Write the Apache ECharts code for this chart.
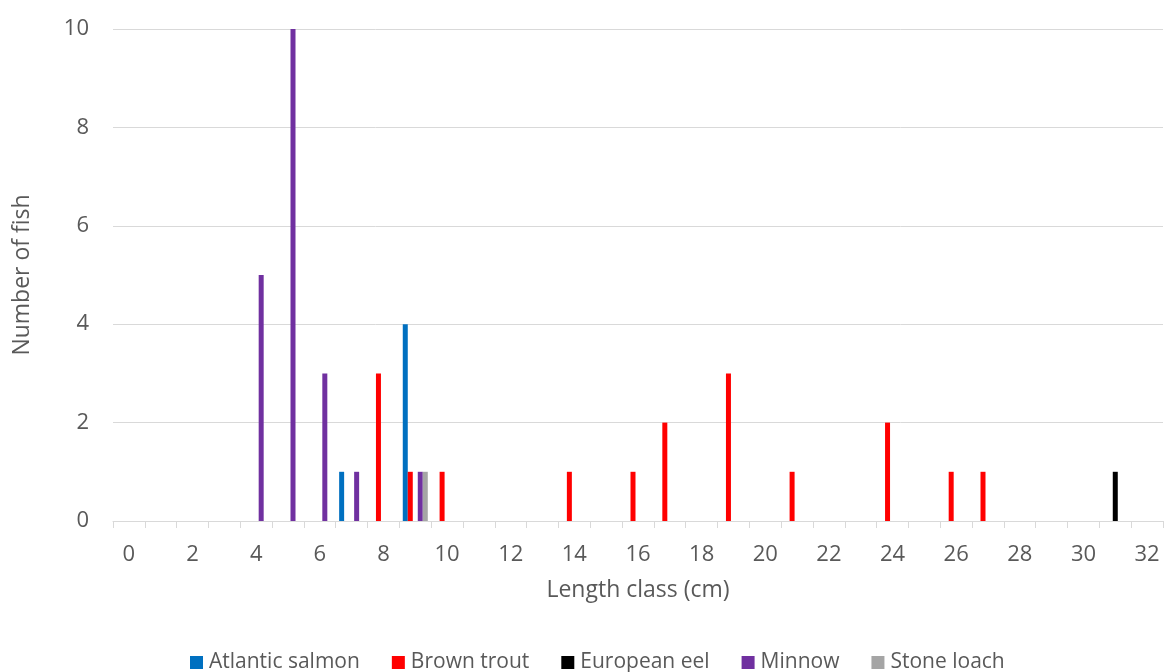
<!DOCTYPE html>
<html>
<head>
<meta charset="utf-8">
<script src="https://cdn.jsdelivr.net/npm/echarts@6/dist/echarts.min.js"></script>
<style>
  html, body { margin: 0; padding: 0; background: #ffffff; }
  #chart { width: 1164px; height: 672px; }
</style>
</head>
<body>
<div id="chart"></div>
<script>
// Length classes 0..32 cm
const lengthClasses = Array.from({ length: 33 }, (_, i) => String(i));

// Fish counts per length class (index = length class in cm)
const atlanticSalmon = [0,0,0,0,0,0,0,1,0,4,0,0,0,0,0,0,0,0,0,0,0,0,0,0,0,0,0,0,0,0,0,0,0];
const brownTrout     = [0,0,0,0,0,0,0,0,3,1,1,0,0,0,1,0,1,2,0,3,0,1,0,0,2,0,1,1,0,0,0,0,0];
const europeanEel    = [0,0,0,0,0,0,0,0,0,0,0,0,0,0,0,0,0,0,0,0,0,0,0,0,0,0,0,0,0,0,0,1,0];
const minnow         = [0,0,0,0,5,10,3,1,0,1,0,0,0,0,0,0,0,0,0,0,0,0,0,0,0,0,0,0,0,0,0,0,0];
const stoneLoach     = [0,0,0,0,0,0,0,0,0,1,0,0,0,0,0,0,0,0,0,0,0,0,0,0,0,0,0,0,0,0,0,0,0];

const seriesDefs = [
  { name: 'Atlantic salmon', data: atlanticSalmon, color: '#0070C0' },
  { name: 'Brown trout',     data: brownTrout,     color: '#FF0000' },
  { name: 'European eel',    data: europeanEel,    color: '#000000' },
  { name: 'Minnow',          data: minnow,         color: '#7030A0' },
  { name: 'Stone loach',     data: stoneLoach,     color: '#A5A5A5' }
];

const FONT = '"Open Sans", "Liberation Sans", sans-serif';
const TEXT = '#595959';

const chart = echarts.init(document.getElementById('chart'), null, { renderer: 'canvas' });

chart.setOption({
  animation: false,
  backgroundColor: '#ffffff',
  textStyle: { fontFamily: FONT, color: TEXT },
  grid: { left: 113, right: 1, top: 29, bottom: 151, containLabel: false },
  legend: {
    bottom: -6,
    left: 185,
    itemWidth: 13,
    itemHeight: 13,
    itemGap: 32,
    icon: 'rect',
    textStyle: { fontFamily: FONT, fontSize: 21, color: TEXT, padding: [0, 0, 0, 1] },
    data: seriesDefs.map(s => s.name)
  },
  xAxis: {
    type: 'category',
    data: lengthClasses,
    boundaryGap: true,
    name: 'Length class (cm)',
    nameLocation: 'middle',
    nameGap: 58,
    nameTextStyle: { fontFamily: FONT, fontSize: 23, color: TEXT },
    axisLine: { show: true, lineStyle: { color: '#D9D9D9', width: 1 } },
    axisTick: { show: true, interval: 0, length: 7, alignWithLabel: false, lineStyle: { color: '#D9D9D9' } },
    axisLabel: { interval: 1, margin: 23, fontFamily: FONT, fontSize: 22, color: TEXT },
    splitLine: { show: false }
  },
  yAxis: {
    type: 'value',
    min: 0,
    max: 10,
    interval: 2,
    name: 'Number of fish',
    nameLocation: 'middle',
    nameGap: 79,
    nameRotate: 90,
    nameTextStyle: { fontFamily: FONT, fontSize: 23, color: TEXT },
    axisLine: { show: false },
    axisTick: { show: false },
    axisLabel: { margin: 24, fontFamily: FONT, fontSize: 22, color: TEXT },
    splitLine: { show: true, lineStyle: { color: '#D9D9D9', width: 1 } }
  },
  series: seriesDefs.map(s => ({
    name: s.name,
    type: 'bar',
    data: s.data,
    barWidth: 5,
    barGap: '0%',
    itemStyle: { color: s.color },
    emphasis: { disabled: true }
  }))
});
</script>
</body>
</html>
